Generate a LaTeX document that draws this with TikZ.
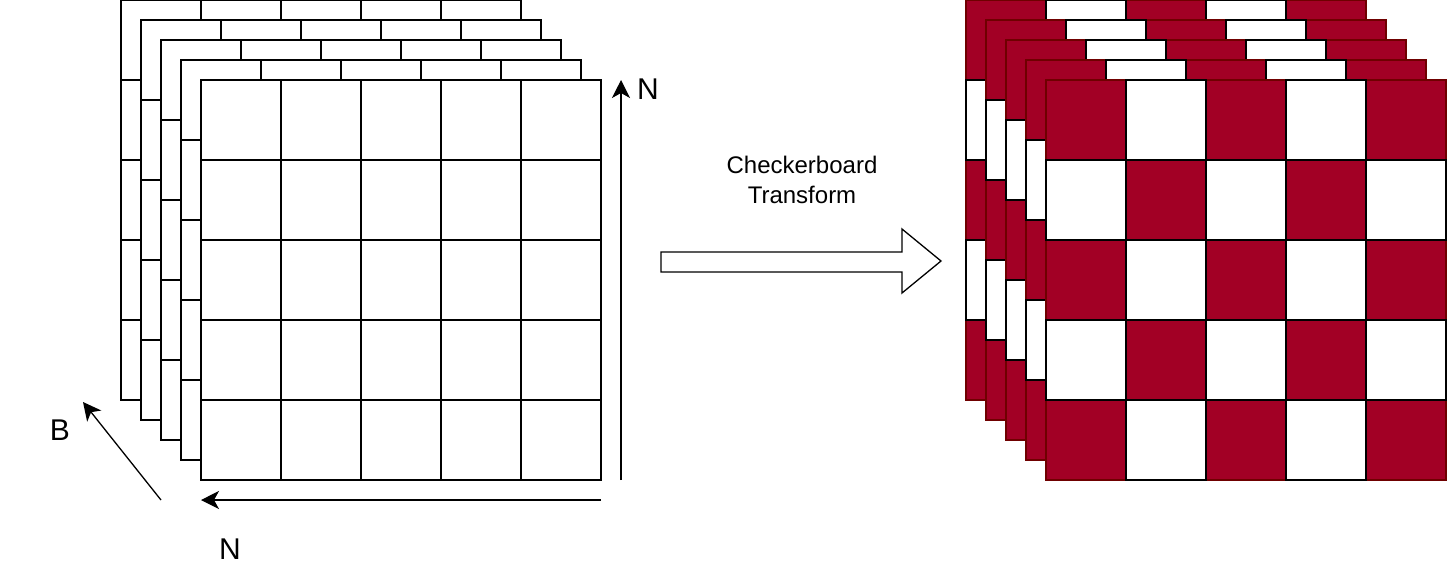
\documentclass[tikz,border=0pt]{standalone}
\usepackage{fontspec}
\setmainfont{Liberation Sans}
\usetikzlibrary{arrows.meta}
\definecolor{cred}{HTML}{A20025}
\definecolor{cstroke}{HTML}{6F0000}
\tikzset{
  plaincell/.style={draw=black,fill=white,line width=1.3pt},
  redcell/.style={draw=cstroke,fill=cred,line width=1.3pt},
  axis/.style={draw=black,line width=1.3pt,-{Stealth[length=18pt,width=18pt,inset=5pt]}},
  axlabel/.style={font=\fontsize{30}{36}\selectfont,inner sep=0pt},
  caption/.style={font=\fontsize{24}{30}\selectfont,align=center,inner sep=0pt},
  bigarrow/.style={draw=black,fill=white,line width=1.3pt,line join=miter}
}
\begin{document}
\begin{tikzpicture}[x=1pt,y=-1pt]
\useasboundingbox (0,0) rectangle (1448,582);
% left stack
\foreach \k in {0,...,4}{
  \pgfmathsetmacro\ox{121+20*\k}
  \pgfmathsetmacro\oy{20*\k}
  \foreach \i in {0,...,4}{
    \foreach \j in {0,...,4}{
      \draw[plaincell] ({\ox+80*\i},{\oy+80*\j}) rectangle ++(80,80);
    }
  }
}
% right stack
\foreach \k in {0,...,4}{
  \pgfmathsetmacro\ox{966+20*\k}
  \pgfmathsetmacro\oy{20*\k}
  \foreach \i in {0,...,4}{
    \foreach \j in {0,...,4}{
      \pgfmathtruncatemacro\pty{mod(\i+\j,2)}
      \ifnum\pty=0
        \draw[redcell] ({\ox+80*\i},{\oy+80*\j}) rectangle ++(80,80);
      \fi
    }
  }
  \foreach \i in {0,...,4}{
    \foreach \j in {0,...,4}{
      \pgfmathtruncatemacro\pty{mod(\i+\j,2)}
      \ifnum\pty=1
        \draw[plaincell] ({\ox+80*\i},{\oy+80*\j}) rectangle ++(80,80);
      \fi
    }
  }
}
% axes
\coordinate (nvs) at (621,480);
\coordinate (nve) at (621,80);
\coordinate (nhs) at (601,500);
\coordinate (nhe) at (201,500);
\coordinate (bs) at (161,500);
\coordinate (be) at (83,402);
\draw[axis] (nvs) -- (nve);
\draw[axis] (nhs) -- (nhe);
\draw[axis] (bs) -- (be);
\node[axlabel] (lnv) at (648,89) {N};
\node[axlabel] (lnh) at (230,549) {N};
\node[axlabel] (lb) at (60,430) {B};
% transform arrow
\draw[bigarrow] (661,252) -- (902,252) -- (902,229) -- (941,261) -- (902,293) -- (902,272) -- (661,272) -- cycle;
\node[caption] (cap) at (802,180) {Checkerboard\\Transform};
\end{tikzpicture}
\end{document}
